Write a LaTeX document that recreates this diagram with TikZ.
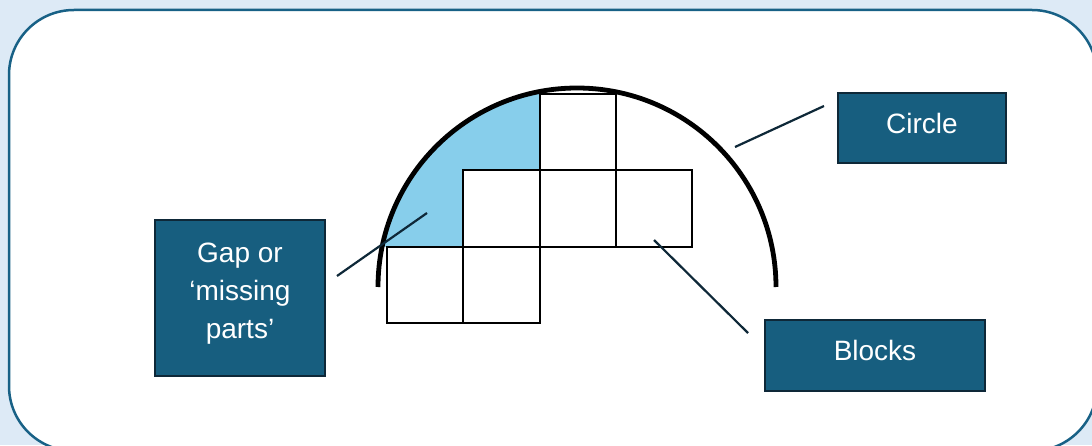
\documentclass[tikz,border=0pt]{standalone}
\usepackage{fontspec}
\setmainfont{Liberation Sans}
\usepackage{xcolor}
\usepackage{tikz}
\usetikzlibrary{positioning}
\definecolor{pagebg}{RGB}{221,234,246}
\definecolor{frameblue}{RGB}{24,97,134}
\definecolor{labelfill}{RGB}{23,94,127}
\definecolor{labeledge}{RGB}{14,40,56}
\definecolor{gapblue}{RGB}{135,206,235}
\tikzset{
  labelbox/.style={
    rectangle,
    draw=labeledge,
    fill=labelfill,
    line width=2pt,
    align=center,
    text=white,
    inner sep=0pt,
    font=\fontsize{28}{38}\selectfont
  },
  blockcell/.style={
    draw=black,
    line width=2pt
  },
  leaderline/.style={
    draw=labeledge,
    line width=2.2pt
  },
  circleline/.style={
    draw=black,
    line width=4.8pt
  }
}

\begin{document}
\begin{tikzpicture}[x=1pt,y=1pt]
\useasboundingbox (0,0) rectangle (1092,445);
\fill[pagebg] (0,0) rectangle (1092,445);
\draw[frameblue, fill=white, line width=2.5pt, rounded corners=65pt] (9,-6) rectangle (1097,435);

\coordinate (ctr) at (577,158);
\def\cellsz{76.25}

% gap between the blocks and the circle
\begin{scope}
  \clip (ctr) circle (199);
  \fill[gapblue] (370,198.25) -- (463.25,198.25) -- (463.25,274.5)
    -- (539.5,274.5) -- (539.5,370) -- (370,370) -- cycle;
\end{scope}

% blocks
\foreach \i/\j in {0/0,1/0,1/1,2/1,3/1,2/2}
  \draw[blockcell] ({387+\i*\cellsz},{122+\j*\cellsz}) rectangle ++(\cellsz,\cellsz);

% circle
\draw[circleline] (378,158) arc[start angle=180, end angle=0, radius=199];

\node[labelbox, minimum width=170pt, minimum height=156pt, text depth=15pt] (gap) at (240,147) {Gap or\\‘missing\\parts’};
\node[labelbox, minimum width=168pt, minimum height=70pt, text depth=10pt] (circ) at (922,317) {Circle};
\node[labelbox, minimum width=220pt, minimum height=71pt, text depth=11pt] (blocks) at (875,89.5) {Blocks};

\coordinate (gapa) at (337,169);
\coordinate (gapb) at (427,232);
\coordinate (circa) at (735,298);
\coordinate (circb) at (824,339);
\coordinate (blka) at (654,205);
\coordinate (blkb) at (748,112);

\draw[leaderline] (gapa) -- (gapb);
\draw[leaderline] (circa) -- (circb);
\draw[leaderline] (blka) -- (blkb);
\end{tikzpicture}
\end{document}
